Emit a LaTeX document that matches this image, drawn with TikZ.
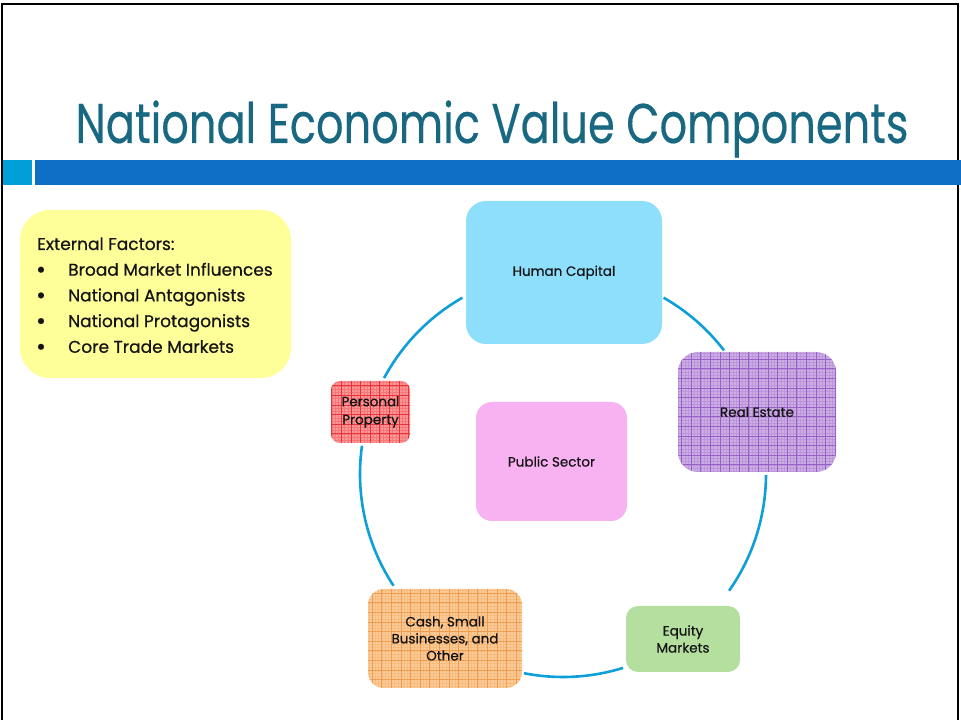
\documentclass[tikz,border=0pt]{standalone}
\usepackage{fontspec}
\usetikzlibrary{calc}
\setmainfont{Poppins}
\newfontfamily\titlefont[FakeStretch=0.77,FakeBold=0.3]{Poppins}
\newfontfamily\boxfont[FakeBold=0.6]{Poppins}
\definecolor{titlec}{RGB}{23,104,128}
\definecolor{barlight}{RGB}{0,159,216}
\definecolor{bardark}{RGB}{15,111,198}
\definecolor{arcc}{RGB}{14,159,216}
\definecolor{hcfill}{RGB}{142,223,252}
\definecolor{psfill}{RGB}{248,178,242}
\definecolor{eqfill}{RGB}{181,223,159}
\definecolor{yelfill}{RGB}{255,255,153}
\definecolor{refill}{RGB}{204,174,228}
\definecolor{reline}{RGB}{150,96,196}
\definecolor{ppfill}{RGB}{251,150,150}
\definecolor{ppline}{RGB}{232,50,60}
\definecolor{cafill}{RGB}{251,202,150}
\definecolor{caline}{RGB}{238,156,80}
\definecolor{txt}{RGB}{20,20,20}
\begin{document}
\begin{tikzpicture}[x=1pt,y=1pt,
  box/.style={draw=none, inner sep=2pt, align=center, text=txt, font=\boxfont\fontsize{13.5}{17}\selectfont},
  patbox/.style 2 args={box, fill=#1, path picture={
      \draw[#2, line width=0.6pt, opacity=0.3, step=3.2pt]
        (path picture bounding box.south west) grid (path picture bounding box.north east);
      \draw[#2, line width=0.9pt, step=9.6pt]
        (path picture bounding box.south west) grid (path picture bounding box.north east);}},
  ring/.style={draw=arcc, line width=2.6pt},
  eftext/.style={anchor=base west, inner sep=0pt, text=txt, font=\boxfont\fontsize{17}{20}\selectfont},
  bullet/.style={anchor=base, inner sep=0pt, text=txt, font=\boxfont\fontsize{24}{24}\selectfont}
]
\useasboundingbox (0,0) rectangle (961,720);
% frame
\draw[black, line width=2pt] (2,0) -- (2,716) -- (958,716) -- (958,0);
% title
\node[anchor=base, inner sep=0pt, text=titlec, font=\titlefont\fontsize{56}{60}\selectfont] (title) at (492,577) {National Economic Value Components};
% bars
\fill[barlight] (3,535) rectangle (32,560);
\fill[bardark] (35,535) rectangle (961,560);
% external factors
\node[box, fill=yelfill, rounded corners=30pt, minimum width=271pt, minimum height=168pt] (ext) at (155.5,426) {};
\node[eftext] (ef0) at (37,470) {External Factors:};
\foreach \i/\t in {1/Broad Market Influences,2/National Antagonists,3/National Protagonists,4/Core Trade Markets}{
  \node[bullet] (efb\i) at (41,{468-25.7*\i}) {•};
  \node[eftext] (ef\i) at (68,{470-25.7*\i}) {\t};
}
% ring arcs
\coordinate (C) at (563,246);
\def\R{203}
\foreach \a/\b [count=\k] in {151.8/119.7, 60.3/37.5, -0.3/-35.1, -72.8/-101.1, 213.4/172}{
  \coordinate (s\k) at ($(C)+(\a:\R)$);
  \draw[ring] (s\k) arc[start angle=\a, end angle=\b, radius=\R];
}
% boxes
\node[box, fill=hcfill, rounded corners=20pt, minimum width=196pt, minimum height=143pt] (hc) at (564,447.5) {Human Capital};
\node[box, patbox={refill}{reline}, rounded corners=20pt, minimum width=158pt, minimum height=120pt] (re) at (757,308) {Real Estate};
\node[box, patbox={ppfill}{ppline}, rounded corners=9pt, minimum width=79pt, minimum height=62pt] (pp) at (370.5,308) {Personal\\[1pt]Property};
\node[box, fill=psfill, rounded corners=16pt, minimum width=151pt, minimum height=119pt] (ps) at (551.5,258.5) {Public Sector};
\node[box, patbox={cafill}{caline}, rounded corners=16pt, minimum width=154pt, minimum height=99pt] (ca) at (445,81.5) {Cash, Small\\Businesses, and\\Other};
\node[box, fill=eqfill, rounded corners=12pt, minimum width=114pt, minimum height=66pt] (eq) at (683,81) {Equity\\Markets};
\end{tikzpicture}
\end{document}
